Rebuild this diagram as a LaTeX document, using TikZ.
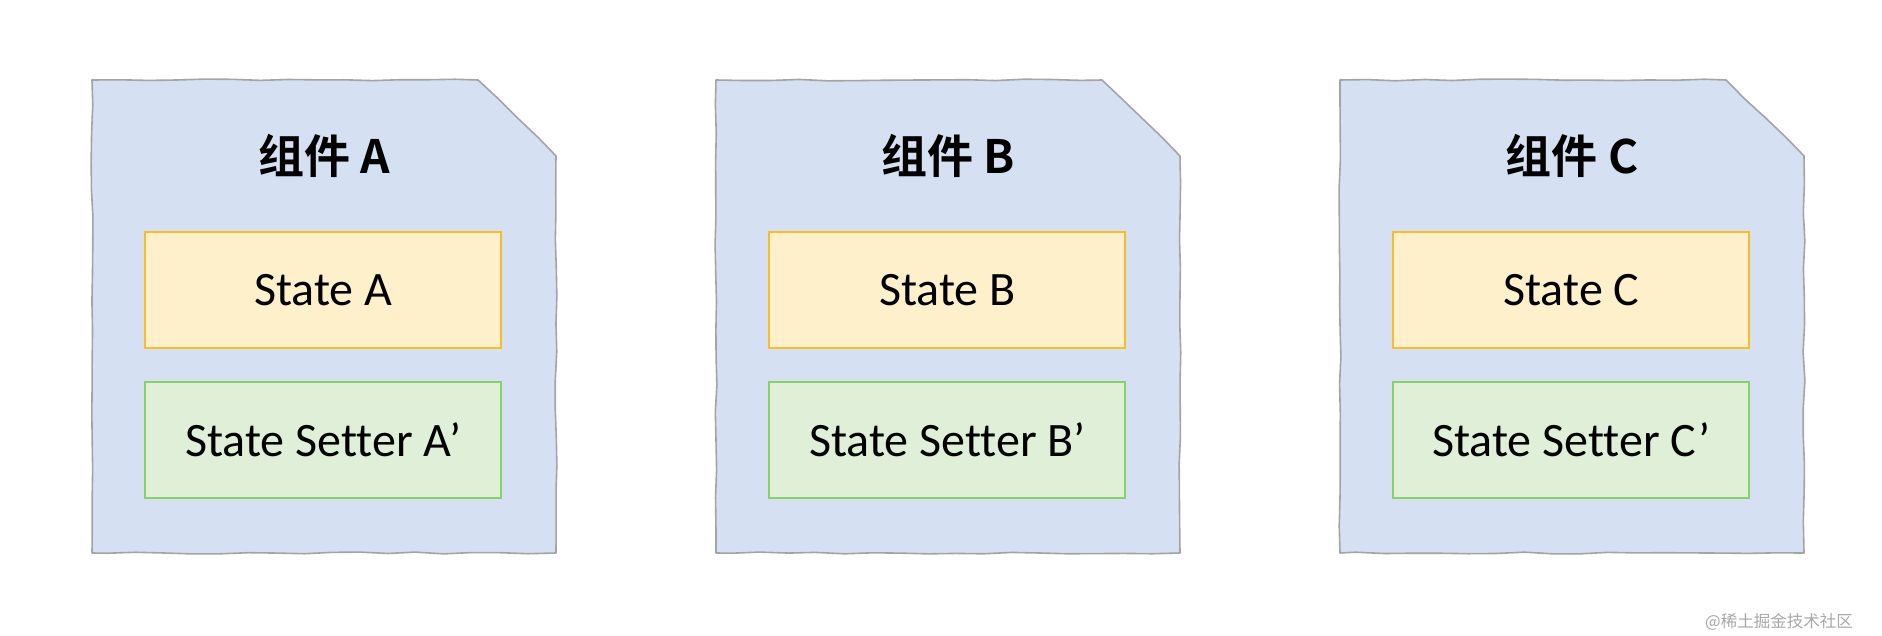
\documentclass[tikz,border=0pt]{standalone}
\usepackage{fontspec}
\setmainfont{Carlito}[Ligatures=NoCommon]
\newfontfamily\cjk{Noto Sans CJK SC}[BoldFont={Noto Sans CJK SC Bold}]
\usetikzlibrary{decorations.pathmorphing}
\definecolor{bluefill}{HTML}{D5E1F3}
\definecolor{bluestroke}{HTML}{A4A4A4}
\definecolor{yelfill}{HTML}{FFF0CC}
\definecolor{yelstroke}{HTML}{F9BC2C}
\definecolor{grnfill}{HTML}{DFEFD8}
\definecolor{grnstroke}{HTML}{88D260}
\definecolor{wmgray}{HTML}{A8A8A8}
\tikzset{
  sketchy/.style={decorate,decoration={random steps,segment length=28pt,amplitude=0.9pt}},
  comp/.style={fill=bluefill,draw=bluestroke,line width=1.6pt,line join=round},
  inner/.style={minimum width=356pt,minimum height=116pt,inner sep=0pt,line width=2.1pt,
    font=\fontsize{48}{54}\selectfont},
  statebox/.style={inner,fill=yelfill,draw=yelstroke},
  setterbox/.style={inner,fill=grnfill,draw=grnstroke},
  title/.style={font=\cjk\bfseries\fontsize{46}{52}\selectfont,inner sep=0pt},
}
\begin{document}
\begin{tikzpicture}[x=1pt,y=-1pt]
\useasboundingbox[fill=white] (0,0) rectangle (1882,636);
\pgfmathsetseed{7}
\foreach \L [count=\i from 0] in {A,B,C}{
  \begin{scope}[xshift=624*\i pt]
    \draw[comp] [sketchy] (92,80) -- (478,80) -- (556,156) -- (556,553) -- (92,553) -- cycle;
    \node[title] (t\L) at (324,156) {组件 \L};
    \node[statebox] (s\L) at (323.4,289.8) {State \L};
    \node[setterbox] (g\L) at (323.4,439.8) {State Setter \L’};
  \end{scope}
}
\node[font=\cjk\fontsize{16.5}{18}\selectfont,text=wmgray,inner sep=0pt] (wm) at (1779,622) {@稀土掘金技术社区};
\end{tikzpicture}
\end{document}
